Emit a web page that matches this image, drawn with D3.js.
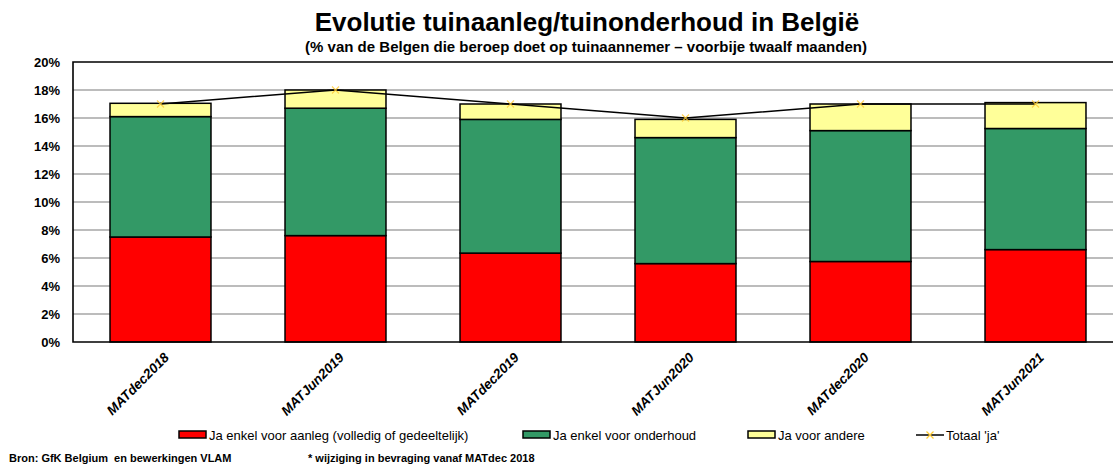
<!DOCTYPE html>
<html>
<head>
<meta charset="utf-8">
<script src="https://cdn.jsdelivr.net/npm/d3@7"></script>
<style>
  body { margin: 0; background: #fff; }
  svg { display: block; font-family: "Liberation Sans", Arial, sans-serif; }
</style>
</head>
<body>
<div class="chart"></div>
<script>
// data (percentages)
var categories = ["MATdec2018", "MATJun2019", "MATdec2019", "MATJun2020", "MATdec2020", "MATJun2021"];
var aanleg    = [7.5, 7.6, 6.35, 5.6, 5.75, 6.6];
var onderhoud = [8.6, 9.1, 9.55, 9.0, 9.35, 8.65];
var andere    = [0.95, 1.3, 1.1, 1.3, 1.9, 1.85];
var totaal    = [17, 18, 17, 16, 17, 17];
var yTicks    = [0, 2, 4, 6, 8, 10, 12, 14, 16, 18, 20];

var seriesNames = ["Ja enkel voor aanleg (volledig of gedeeltelijk)", "Ja enkel voor onderhoud", "Ja voor andere"];
var seriesColors = ["#ff0000", "#339966", "#ffff99"];

var width = 1113, height = 466;
var plot = {left: 73, right: 1123, top: 62, bottom: 342};

var svg = d3.select(".chart")
    .append("svg")
    .attr("width", width)
    .attr("height", height);

var x = d3.scaleBand()
    .domain(categories)
    .range([plot.left, plot.right])
    .paddingInner(0.423)
    .paddingOuter(0.2115);

var y = d3.scaleLinear()
    .domain([0, 20])
    .range([plot.bottom, plot.top]);

// gridlines
svg.append("g")
    .selectAll("line")
    .data(yTicks.slice(1, -1))
    .enter().append("line")
    .attr("x1", plot.left)
    .attr("x2", plot.right)
    .attr("y1", function (d) { return y(d); })
    .attr("y2", function (d) { return y(d); })
    .style("stroke", "#a6a6a6")
    .style("stroke-width", 1.5);

// y axis labels
var yAxis = d3.axisLeft(y)
    .tickValues(yTicks)
    .tickSize(0)
    .tickPadding(13)
    .tickFormat(function (d) { return d + "%"; });

var gy = svg.append("g")
    .attr("transform", "translate(" + plot.left + ",0)")
    .call(yAxis);
gy.select(".domain").remove();
gy.selectAll("text")
    .style("font-family", "'Liberation Sans', Arial, sans-serif")
    .style("font-size", "13px")
    .style("font-weight", "bold")
    .style("fill", "#000");

// stacked bars
var rows = categories.map(function (c, i) {
    return {cat: c, s0: aanleg[i], s1: onderhoud[i], s2: andere[i]};
});
var stack = d3.stack().keys(["s0", "s1", "s2"]);
var layers = stack(rows);

svg.append("g")
    .selectAll("g")
    .data(layers)
    .enter().append("g")
    .style("fill", function (d, i) { return seriesColors[i]; })
    .selectAll("rect")
    .data(function (d) { return d; })
    .enter().append("rect")
    .attr("x", function (d) { return x(d.data.cat); })
    .attr("width", x.bandwidth())
    .attr("y", function (d) { return y(d[1]); })
    .attr("height", function (d) { return y(d[0]) - y(d[1]); })
    .style("stroke", "#000")
    .style("stroke-width", 1.5);

// plot frame
svg.append("path")
    .attr("d", "M" + plot.right + "," + plot.top + "H" + plot.left + "V" + plot.bottom + "H" + plot.right)
    .style("fill", "none")
    .style("stroke", "#000")
    .style("stroke-width", 1.6);

// total line
var line = d3.line()
    .x(function (d, i) { return x(categories[i]) + x.bandwidth() / 2; })
    .y(function (d) { return y(d); });

svg.append("path")
    .datum(totaal)
    .attr("d", line)
    .style("fill", "none")
    .style("stroke", "#000")
    .style("stroke-width", 1.5);

svg.append("g")
    .selectAll("path")
    .data(totaal)
    .enter().append("path")
    .attr("d", function (d, i) {
        var cx = x(categories[i]) + x.bandwidth() / 2, cy = y(d), r = 3.5;
        return "M" + (cx - r) + "," + (cy - r) + "L" + (cx + r) + "," + (cy + r) +
               "M" + (cx - r) + "," + (cy + r) + "L" + (cx + r) + "," + (cy - r);
    })
    .style("stroke", "#ffcc33")
    .style("stroke-width", 1.2)
    .style("opacity", 0.8);

// x labels
svg.append("g")
    .selectAll("text")
    .data(categories)
    .enter().append("text")
    .attr("transform", function (d) {
        return "translate(" + (x(d) + x.bandwidth() / 2 + 6) + "," + (plot.bottom + 13) + ") rotate(-45)";
    })
    .attr("text-anchor", "end")
    .attr("dy", "0.35em")
    .style("font-size", "13.5px")
    .style("font-weight", "bold")
    .style("font-style", "italic")
    .text(function (d) { return d; });

// title
svg.append("text")
    .attr("x", 587)
    .attr("y", 31)
    .attr("text-anchor", "middle")
    .style("font-size", "26px")
    .style("font-weight", "bold")
    .text("Evolutie tuinaanleg/tuinonderhoud in België");

svg.append("text")
    .attr("x", 586)
    .attr("y", 52)
    .attr("text-anchor", "middle")
    .style("font-size", "15px")
    .style("font-weight", "bold")
    .text("(% van de Belgen die beroep doet op tuinaannemer \u2013 voorbije twaalf maanden)");

// legend
var legendX = [179, 523, 748];
var legend = svg.append("g");
seriesNames.forEach(function (name, i) {
    legend.append("rect")
        .attr("x", legendX[i])
        .attr("y", 431)
        .attr("width", 27)
        .attr("height", 7)
        .style("fill", seriesColors[i])
        .style("stroke", "#000")
        .style("stroke-width", 1.5);
    legend.append("text")
        .attr("x", legendX[i] + 30)
        .attr("y", 439.5)
        .style("font-size", "13px")
        .text(name);
});
legend.append("line")
    .attr("x1", 916).attr("x2", 944)
    .attr("y1", 435).attr("y2", 435)
    .style("stroke", "#000")
    .style("stroke-width", 1.5);
legend.append("path")
    .attr("d", "M926.5,431.5L933.5,438.5M926.5,438.5L933.5,431.5")
    .style("stroke", "#ffcc33")
    .style("stroke-width", 1.2);
legend.append("text")
    .attr("x", 946)
    .attr("y", 439.5)
    .style("font-size", "13px")
    .text("Totaal 'ja'");

// footer
svg.append("text")
    .attr("x", 9)
    .attr("y", 462)
    .style("font-size", "11px")
    .style("font-weight", "bold")
    .style("white-space", "pre")
    .text("Bron: GfK Belgium  en bewerkingen VLAM");

svg.append("text")
    .attr("x", 308)
    .attr("y", 462)
    .style("font-size", "11px")
    .style("font-weight", "bold")
    .text("* wijziging in bevraging vanaf MATdec 2018");
</script>
</body>
</html>
